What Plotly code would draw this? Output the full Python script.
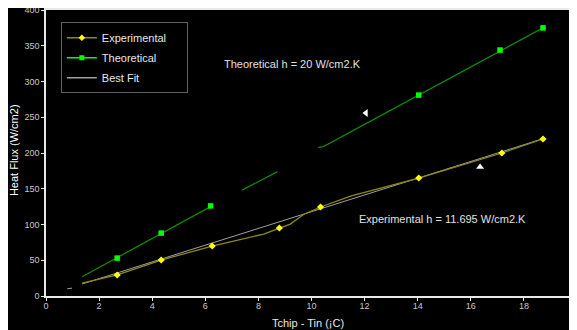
import plotly.graph_objects as go

# Experimental measurements (markers)
exp_x = [2.68, 4.34, 6.26, 8.79, 10.34, 14.04, 17.17, 18.72]
exp_y = [29.4, 50.3, 69.9, 95.1, 124.5, 165.0, 200.0, 219.6]
# Experimental curve as drawn (smoothed line)
exp_curve_x = [1.36, 2.68, 4.34, 6.26, 8.2, 8.79, 9.2, 9.7, 10.34, 11.5, 12.6, 14.04, 17.17, 18.72]
exp_curve_y = [18.0, 29.4, 50.3, 69.9, 86.7, 95.1, 100.5, 114.0, 124.5, 140.0, 151.0, 165.0, 200.0, 219.6]

# Theoretical points (markers)
theo_x = [2.68, 4.34, 6.2, 14.04, 17.1, 18.72]
theo_y = [53.0, 88.0, 126.0, 281.0, 344.0, 375.0]
# Theoretical line as drawn (with breaks)
theo_line_x = [1.36, 6.2, None, 7.38, 8.72, None, 10.25, 10.45, 18.72]
theo_line_y = [27.0, 125.0, None, 148.0, 174.0, None, 208.0, 209.0, 375.0]

# Best fit line
fit_x = [0.8, 0.98, None, 1.36, 18.72]
fit_y = [10.0, 11.0, None, 16.8, 220.0]

# Stray white triangles
tri_left = (12.05, 256.0)
tri_up = (16.35, 180.4)

x_ticks = [0, 2, 4, 6, 8, 10, 12, 14, 16, 18, 20]
y_ticks = [0, 50, 100, 150, 200, 250, 300, 350, 400]

FONT = "Arial, Liberation Sans, sans-serif"
OLIVE = "#8c8c10"
YELLOW = "#ffff00"
DGREEN = "#0a8a0a"
BGREEN = "#00ff00"
GRAY = "#a0a0a0"

fig = go.Figure()

# Best fit
fig.add_trace(go.Scatter(x=fit_x, y=fit_y, mode="lines", line=dict(color=GRAY, width=1),
                         showlegend=False, legendgroup="c", hoverinfo="skip"))
# Theoretical
fig.add_trace(go.Scatter(x=theo_line_x, y=theo_line_y, mode="lines", line=dict(color=DGREEN, width=1.3),
                         showlegend=False, legendgroup="b", hoverinfo="skip"))
fig.add_trace(go.Scatter(x=theo_x, y=theo_y, mode="markers",
                         marker=dict(symbol="square", size=5.5, color=BGREEN),
                         showlegend=False, legendgroup="b"))
# Experimental
fig.add_trace(go.Scatter(x=exp_curve_x, y=exp_curve_y, mode="lines", line=dict(color=OLIVE, width=1.3),
                         showlegend=False, legendgroup="a", hoverinfo="skip"))
fig.add_trace(go.Scatter(x=exp_x, y=exp_y, mode="markers",
                         marker=dict(symbol="diamond", size=5.5, color=YELLOW),
                         showlegend=False, legendgroup="a"))

# Legend entries
fig.add_trace(go.Scatter(x=[None], y=[None], mode="lines+markers",
                         name="Experimental&nbsp;&nbsp;&nbsp;&nbsp;&nbsp;",
                         line=dict(color=OLIVE, width=1.5),
                         marker=dict(symbol="diamond", size=5, color=YELLOW), legendgroup="a"))
fig.add_trace(go.Scatter(x=[None], y=[None], mode="lines+markers", name="Theoretical",
                         line=dict(color=BGREEN, width=1.5),
                         marker=dict(symbol="square", size=5, color=BGREEN), legendgroup="b"))
fig.add_trace(go.Scatter(x=[None], y=[None], mode="lines", name="Best Fit",
                         line=dict(color=GRAY, width=1.5), legendgroup="c"))

# White triangles
fig.add_trace(go.Scatter(x=[tri_left[0]], y=[tri_left[1]], mode="markers",
                         marker=dict(symbol="triangle-left", size=7, color="white"), showlegend=False))
fig.add_trace(go.Scatter(x=[tri_up[0]], y=[tri_up[1]], mode="markers",
                         marker=dict(symbol="triangle-up", size=7, color="white"), showlegend=False))

fig.add_annotation(x=9.27, y=324.5, text="Theoretical h = 20 W/cm2.K", showarrow=False,
                   font=dict(family=FONT, size=11, color="#e0e0e0"))
fig.add_annotation(x=14.93, y=107.7, text="Experimental h = 11.695 W/cm2.K", showarrow=False,
                   font=dict(family=FONT, size=11, color="#e0e0e0"))

# Axis titles
fig.add_annotation(xref="paper", yref="paper", x=-0.0603, y=0.51, xanchor="center", yanchor="middle",
                   text="Heat Flux (W/cm2)", textangle=-90, showarrow=False,
                   font=dict(family=FONT, size=11, color="white"))
fig.add_annotation(xref="paper", yref="paper", x=0.493, y=-0.0944, xanchor="center", yanchor="middle",
                   text="Tchip - Tin (¡C)", showarrow=False,
                   font=dict(family=FONT, size=11, color="#e8e8e8"))

# The page body adds an 8px offset, so the figure is sized to fill the window exactly.
fig.update_layout(
    width=569, height=322,
    margin=dict(l=38, r=0, t=2, b=34),
    paper_bgcolor="black", plot_bgcolor="black",
    font=dict(family=FONT, color="#c8c8c8"),
    legend=dict(x=0.028, y=0.957, xanchor="left", yanchor="top",
                bgcolor="black", bordercolor="#606060", borderwidth=1,
                font=dict(family=FONT, size=11, color="#e8e8e8"),
                itemwidth=30, tracegroupgap=1),
    xaxis=dict(range=[0, 20], tickvals=x_ticks, showgrid=False, zeroline=False, automargin=False,
               showline=True, linecolor="#e8e8e8", linewidth=1.5, mirror=True,
               ticks="outside", ticklen=3, tickcolor="#e8e8e8", ticklabelstandoff=-3,
               ticklabeloverflow="allow",
               tickfont=dict(family=FONT, size=9, color="#c8c8c8")),
    yaxis=dict(range=[0, 400], tickvals=y_ticks, showgrid=False, zeroline=False, automargin=False,
               showline=True, linecolor="#e8e8e8", linewidth=1.5,
               ticks="outside", ticklen=3, tickcolor="#e8e8e8", ticklabeloverflow="allow",
               tickfont=dict(family=FONT, size=9, color="#c8c8c8")),
)

fig.write_html("out.html")
